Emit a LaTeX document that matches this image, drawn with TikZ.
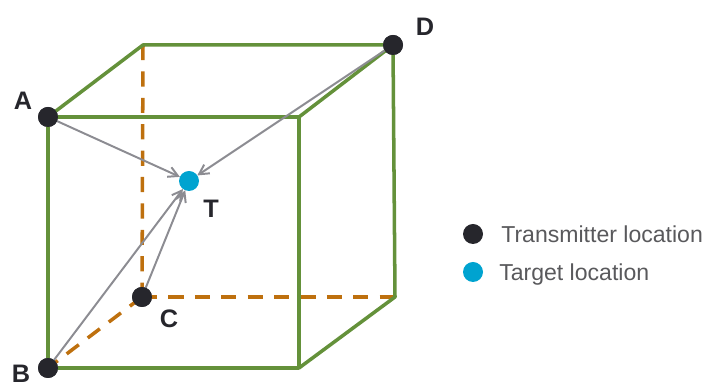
\documentclass[tikz,border=0pt]{standalone}
\usepackage{fontspec}
\setmainfont{Liberation Sans}
\usetikzlibrary{arrows.meta,positioning}
\definecolor{EdgeGreen}{RGB}{100,145,58}
\definecolor{HiddenOrange}{RGB}{190,112,14}
\definecolor{DotDark}{RGB}{38,38,44}
\definecolor{TargetBlue}{RGB}{0,163,208}
\definecolor{RayGray}{RGB}{140,140,146}
\definecolor{LegendGray}{RGB}{89,89,92}
\tikzset{
  txdot/.style={circle, fill=DotDark, inner sep=0pt, outer sep=0pt, minimum size=0.5cm},
  tgdot/.style={circle, fill=TargetBlue, inner sep=0pt, outer sep=0pt, minimum size=0.5cm},
  ptlabel/.style={inner sep=0pt, text=DotDark, font=\fontsize{18}{21}\selectfont\bfseries},
  legendtext/.style={inner sep=0pt, yshift=-0.05cm, text=LegendGray, text height=0.42cm, text depth=0.1cm, font=\fontsize{16.4}{19}\selectfont},
  edgeline/.style={EdgeGreen, line width=2.5pt, line join=round},
  hiddenline/.style={HiddenOrange, line width=2.5pt, dash pattern=on 0.38cm off 0.28cm},
  rayline/.style={RayGray, line width=1.4pt, -{Straight Barb[length=2.4mm,width=2.6mm]}}
}
\begin{document}
\begin{tikzpicture}
  \useasboundingbox (0,0) rectangle (17.6,9.675);
  % corners without a dot
  \coordinate (backTL) at (3.575,8.55);
  \coordinate (frontTR) at (7.475,6.75);
  \coordinate (frontBR) at (7.475,0.475);
  \coordinate (backBR) at (9.875,2.25);
  % transmitters and target
  \node[txdot] (ptA) at (1.2,6.75) {};
  \node[txdot] (ptB) at (1.2,0.475) {};
  \node[txdot] (ptC) at (3.55,2.25) {};
  \node[txdot] (ptD) at (9.825,8.55) {};
  \node[tgdot] (ptT) at (4.725,5.15) {};
  % hidden edges
  \draw[hiddenline] (backTL) -- (ptC.center);
  \draw[hiddenline] (ptC.center) -- (backBR);
  \draw[hiddenline] (ptC.center) -- (ptB.center);
  % visible edges
  \draw[edgeline] (ptA.center) -- (backTL) -- (ptD.center) -- (frontTR) -- (ptA.center) -- (ptB.center) -- (frontBR) -- (frontTR);
  \draw[edgeline] (ptD.center) -- (backBR) -- (frontBR);
  % rays
  \draw[rayline] (ptA) -- (ptT);
  \draw[rayline] (ptB) -- (ptT);
  \draw[rayline] (ptC) -- (ptT);
  \draw[rayline] (ptD) -- (ptT);
  % dots again on top of the lines
  \node[txdot] at (ptA) {};
  \node[txdot] at (ptB) {};
  \node[txdot] at (ptC) {};
  \node[txdot] at (ptD) {};
  % labels
  \node[ptlabel] (labA) at (0.575,7.15) {A};
  \node[ptlabel] (labB) at (0.525,0.33) {B};
  \node[ptlabel] (labC) at (4.225,1.7) {C};
  \node[ptlabel] (labD) at (10.625,9.0) {D};
  \node[ptlabel] (labT) at (5.275,4.45) {T};
  % legend
  \node[txdot] (legTx) at (11.825,3.825) {};
  \node[tgdot] (legTg) at (11.825,2.875) {};
  \node[legendtext, right=0.45cm of legTx] (legTxText) {Transmitter location};
  \node[legendtext, right=0.4cm of legTg] (legTgText) {Target location};
\end{tikzpicture}
\end{document}
